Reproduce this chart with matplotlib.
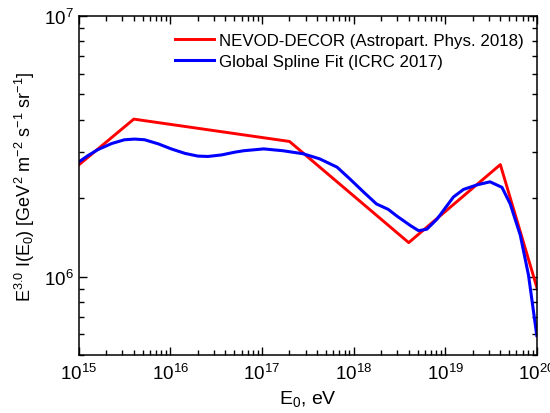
import numpy as np
import matplotlib
matplotlib.use("Agg")
import matplotlib.pyplot as plt
from matplotlib.ticker import LogLocator, NullFormatter

plt.rcParams['font.family'] = ['Liberation Sans', 'DejaVu Sans']
plt.rcParams['mathtext.fontset'] = 'custom'
plt.rcParams['mathtext.rm'] = 'Liberation Sans'
plt.rcParams['mathtext.it'] = 'Liberation Sans'
plt.rcParams['mathtext.bf'] = 'Liberation Sans:bold'

# NEVOD-DECOR points (energy in eV, E^3 I)
nevod_E = [1e15, 4e15, 2e17, 4e18, 4e19, 1e20]
nevod_I = [2.68e6, 4.02e6, 3.30e6, 1.35e6, 2.69e6, 0.91e6]

# Global spline fit (log10 E, E^3 I)
spline_logE = [15.00, 15.10, 15.21, 15.36, 15.50, 15.61, 15.72, 15.87, 16.01,
               16.16, 16.30, 16.41, 16.56, 16.70, 16.80, 17.02, 17.23, 17.45,
               17.63, 17.82, 17.96, 18.11, 18.25, 18.38, 18.47, 18.62, 18.71,
               18.80, 18.91, 19.09, 19.20, 19.35, 19.49, 19.62, 19.71, 19.82,
               19.91, 20.00]
spline_I = [2.75e6, 2.91e6, 3.07e6, 3.24e6, 3.35e6, 3.37e6, 3.35e6, 3.23e6, 3.09e6,
            2.97e6, 2.90e6, 2.89e6, 2.93e6, 3.00e6, 3.04e6, 3.09e6, 3.04e6, 2.96e6,
            2.83e6, 2.63e6, 2.37e6, 2.11e6, 1.90e6, 1.81e6, 1.71e6, 1.57e6, 1.50e6,
            1.52e6, 1.66e6, 2.02e6, 2.16e6, 2.25e6, 2.31e6, 2.20e6, 1.90e6, 1.44e6,
            1.01e6, 5.94e5]

fig = plt.figure(figsize=(5.5, 4.14), dpi=100)
ax = fig.add_axes([0.143, 0.140, 0.833, 0.819])

ax.plot(nevod_E, nevod_I, color='#ff0000', lw=2.1,
        label='NEVOD-DECOR (Astropart. Phys. 2018)')
ax.plot(10 ** np.array(spline_logE), spline_I, color='#0000ff', lw=2.2,
        label='Global Spline Fit (ICRC 2017)')

ax.set_xscale('log')
ax.set_yscale('log')
ax.set_xlim(1e15, 1e20)
ax.set_ylim(5e5, 1e7)

ax.xaxis.set_major_locator(LogLocator(base=10, numticks=10))
ax.xaxis.set_minor_locator(LogLocator(base=10, subs=np.arange(2, 10), numticks=20))
ax.yaxis.set_minor_locator(LogLocator(base=10, subs=np.arange(2, 10), numticks=20))
ax.yaxis.set_minor_formatter(NullFormatter())

ax.tick_params(which='both', direction='in', top=True, right=True, labelsize=13.5,
               width=1.0, color='black')
ax.tick_params(which='major', length=6)
ax.tick_params(which='minor', length=3.5)
ax.tick_params(axis='x', which='major', pad=6)
for s in ax.spines.values():
    s.set_linewidth(1.1)

ax.set_xlabel('E$_0$, eV', fontsize=14, labelpad=3)
ax.set_ylabel('E$^{3.0}$ I(E$_0$) [GeV$^2$ m$^{-2}$ s$^{-1}$ sr$^{-1}$]', fontsize=13, labelpad=5)

ax.legend(loc='upper left', bbox_to_anchor=(0.210, 0.950), frameon=False,
          fontsize=12.2, handlelength=2.3, handletextpad=0.3, labelspacing=0.35,
          borderpad=0, borderaxespad=0)

fig.savefig('out.png', dpi=100)
